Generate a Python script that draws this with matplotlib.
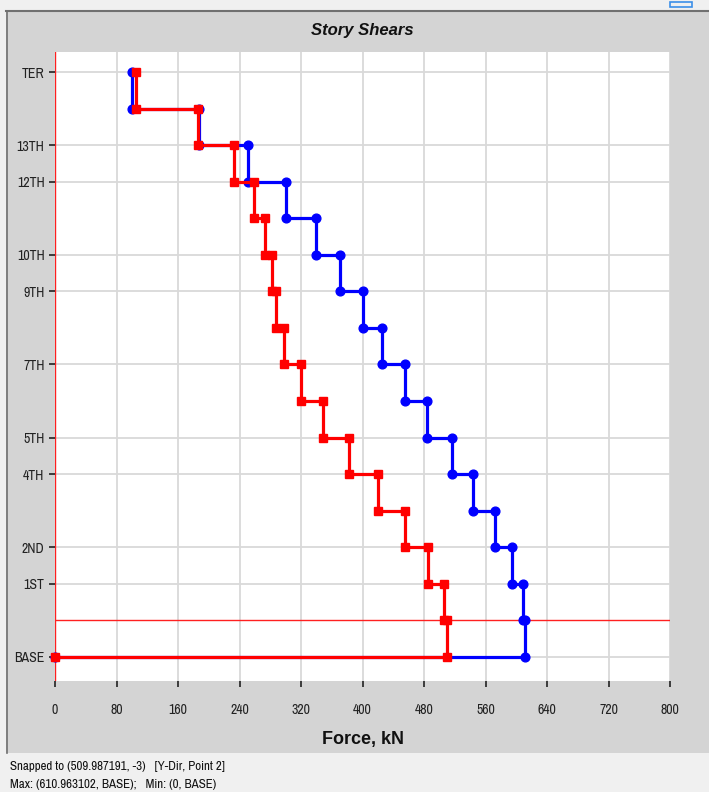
"""
Story Shears chart (ETABS-style display), redrawn with matplotlib.
Two step curves: story shear per level, blue = X-Dir, red = Y-Dir.
"""

import matplotlib
matplotlib.use("Agg")
import matplotlib.pyplot as plt
from matplotlib import font_manager
from matplotlib.patches import Rectangle

# --- data: shear per story, listed from the top story (TER) down to the base ---
story_tops = [16, 15, 14, 13, 12, 11, 10, 9, 8, 7, 6, 5, 4, 3, 2, 1]
blue_shear = [100.7, 187.5, 251, 300, 339, 371, 400, 426, 455, 484, 516, 544, 572, 595, 609, 610.96]
red_shear = [106, 185.4, 233, 259.5, 273.6, 282, 288, 298.4, 320, 348, 382, 420, 455, 485, 506, 509.99]

level_ticks = [0, 2, 3, 5, 6, 8, 10, 11, 13, 14, 16]
level_labels = ["BASE", "1ST", "2ND", "4TH", "5TH", "7TH", "9TH", "10TH", "12TH", "13TH", "TER"]
force_ticks = [0, 80, 160, 240, 320, 400, 480, 560, 640, 720, 800]

snap_x, snap_level = 0, 1          # cursor cross-hair position

# pick a condensed sans if one is installed, otherwise plain Liberation Sans
names = sorted({f.name for f in font_manager.fontManager.ttflist})
narrow = [n for n in names if "Narrow" in n or "Condensed" in n]
FONT = narrow[:1] + ["Liberation Sans", "DejaVu Sans"]
plt.rcParams["font.family"] = FONT


def step_points(shears):
    xs, ys = [], []
    for top, v in zip(story_tops, shears):
        xs += [v, v]
        ys += [top, top - 1]
    xs.append(0)
    ys.append(0)
    return xs, ys


def main() -> None:
    fig = plt.figure(figsize=(7.09, 7.92), dpi=100)
    W, H = 709, 792

    # window chrome: top strip, gray panel, status bar
    fig.patches.append(Rectangle((0, 0), 1, 1, transform=fig.transFigure,
                                 color="#f0f0f0", zorder=-3))
    fig.patches.append(Rectangle((6 / W, 1 - 753 / H), 1, (753 - 11) / H,
                                 transform=fig.transFigure, facecolor="#d4d4d4",
                                 edgecolor="none", zorder=-2))
    fig.add_artist(plt.Line2D([6 / W, 1], [1 - 11 / H, 1 - 11 / H], color="#707070",
                              lw=1.5, transform=fig.transFigure))
    fig.add_artist(plt.Line2D([6.5 / W, 6.5 / W], [1 - 11 / H, 1 - 753 / H], color="#707070",
                              lw=1.2, transform=fig.transFigure))
    fig.patches.append(Rectangle((670 / W, 1 - 7 / H), 22 / W, 5 / H,
                                 transform=fig.transFigure, facecolor="none",
                                 edgecolor="#3d8fe8", lw=1.2, zorder=-1))

    ax = fig.add_axes([55 / W, 1 - 681 / H, (670 - 55) / W, (681 - 52) / H])
    ax.set_facecolor("white")
    for s in ax.spines.values():
        s.set_visible(False)

    bx, by = step_points(blue_shear)
    rx, ry = step_points(red_shear)
    ax.plot(bx, by, color="#0000ff", lw=2.3, marker="o", ms=6.3, zorder=4, clip_on=False)
    ax.plot(rx, ry, color="#ff0000", lw=2.3, marker="s", ms=5.3, zorder=5, clip_on=False)

    # cursor cross-hair
    ax.axhline(snap_level, color="#ff2020", lw=1, zorder=3)
    ax.axvline(snap_x, color="#ff2020", lw=1, zorder=3)

    ax.set_xlim(0, 800)
    ax.set_ylim(-0.66, 16.55)
    ax.set_xticks(force_ticks)
    ax.set_yticks(level_ticks, level_labels)
    ax.grid(True, color="#d9d9d9", lw=1.3, zorder=1)
    ax.set_axisbelow(True)
    ax.tick_params(axis="both", colors="#222222", labelsize=10, length=4, width=1.2)
    ax.tick_params(axis="x", pad=12)

    ax.set_title("Story Shears", fontsize=12, fontweight="bold", fontstyle="italic",
                 family=["Liberation Sans", "DejaVu Sans"], pad=12, color="#111111")
    ax.set_xlabel("Force, kN", fontsize=13, fontweight="bold",
                  family=["Liberation Sans", "DejaVu Sans"], labelpad=10, color="#111111")

    fig.text(10 / W, 1 - 766 / H, "Snapped to (509.987191, -3)   [Y-Dir, Point 2]",
             fontsize=9.3, va="center", color="#111111")
    fig.text(10 / W, 1 - 785 / H, "Max: (610.963102, BASE);   Min: (0, BASE)",
             fontsize=9.3, va="center", color="#111111")

    fig.savefig("out.png", dpi=100)


if __name__ == "__main__":
    main()
